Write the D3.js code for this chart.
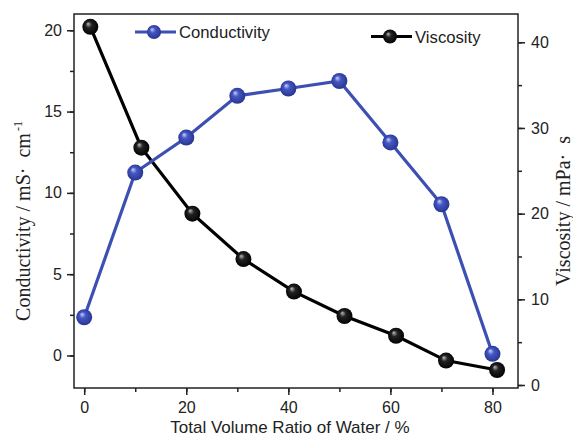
<!DOCTYPE html>
<html><head><meta charset="utf-8">
<script src="https://cdn.jsdelivr.net/npm/d3@7"></script>
<style>body{margin:0;background:#fff}svg{display:block}</style>
</head><body>
<script>
const condX = [0, 10, 20, 30, 40, 50, 60, 70, 80];
const condY = [2.35, 11.25, 13.4, 15.97, 16.42, 16.88, 13.1, 9.3, 0.1];
const viscX = [1.2, 11.2, 21.2, 31.2, 41.1, 51.0, 61.1, 70.9, 80.9];
const viscY = [41.8, 27.7, 20.0, 14.7, 10.9, 8.05, 5.75, 2.85, 1.75];
const xTicks = [0, 20, 40, 60, 80];
const leftTicks = [0, 5, 10, 15, 20];
const rightTicks = [0, 10, 20, 30, 40];
const seriesNames = ["Conductivity", "Viscosity"];

const W = 573, H = 436;
const m = {l: 74, t: 14, r: 518, b: 388};
const svg = d3.select("body").append("svg").attr("width", W).attr("height", H);
const defs = svg.append("defs");
function grad(id, light, mid, dark) {
  const g = defs.append("radialGradient").attr("id", id)
    .attr("cx", "50%").attr("cy", "50%").attr("r", "55%").attr("fx", "35%").attr("fy", "30%");
  g.append("stop").attr("offset", "0%").attr("stop-color", light);
  g.append("stop").attr("offset", "35%").attr("stop-color", mid);
  g.append("stop").attr("offset", "100%").attr("stop-color", dark);
}
grad("gBlue", "#c9d2ff", "#4557c4", "#25328a");
grad("gBlack", "#bdbdbd", "#222", "#000");

const x = d3.scaleLinear().domain([-2, 85]).range([m.l, m.r]);
const yL = d3.scaleLinear().domain([-2, 21]).range([m.b, m.t]);
const yR = d3.scaleLinear().domain([-0.35, 43.3]).range([m.b, m.t]);

const tickFont = "Liberation Sans, Arial, sans-serif";
const serif = "Liberation Serif, Times New Roman, serif";
const axColor = "#222";

// frame
svg.append("rect").attr("x", m.l).attr("y", m.t).attr("width", m.r - m.l).attr("height", m.b - m.t)
  .attr("fill", "none").attr("stroke", axColor).attr("stroke-width", 1.5);

function styleAxis(g) {
  g.select(".domain").remove();
  g.selectAll("line").attr("stroke", axColor).attr("stroke-width", 1.5);
  g.selectAll("text").attr("font-family", tickFont).attr("font-size", 16).attr("fill", "#222");
}
// minor ticks
const gx = svg.append("g").attr("transform", `translate(0,${m.b})`)
  .call(d3.axisBottom(x).tickValues(d3.range(0, 81, 10)).tickSize(4).tickFormat(""));
styleAxis(gx);
const gx2 = svg.append("g").attr("transform", `translate(0,${m.b})`)
  .call(d3.axisBottom(x).tickValues(xTicks).tickSize(7).tickPadding(7).tickFormat(d3.format("d")));
styleAxis(gx2);

const gl = svg.append("g").attr("transform", `translate(${m.l},0)`)
  .call(d3.axisLeft(yL).tickValues(d3.range(0, 21, 2.5)).tickSize(4).tickFormat(""));
styleAxis(gl);
const gl2 = svg.append("g").attr("transform", `translate(${m.l},0)`)
  .call(d3.axisLeft(yL).tickValues(leftTicks).tickSize(7).tickPadding(5).tickFormat(d3.format("d")));
styleAxis(gl2);

const gr = svg.append("g").attr("transform", `translate(${m.r},0)`)
  .call(d3.axisRight(yR).tickValues(d3.range(0, 41, 5)).tickSize(4).tickFormat(""));
styleAxis(gr);
const gr2 = svg.append("g").attr("transform", `translate(${m.r},0)`)
  .call(d3.axisRight(yR).tickValues(rightTicks).tickSize(7).tickPadding(6).tickFormat(d3.format("d")));
styleAxis(gr2);

// axis titles
svg.append("text").attr("x", 290).attr("y", 433).attr("text-anchor", "middle")
  .attr("font-family", tickFont).attr("font-size", 17).attr("fill", "#222")
  .text("Total Volume Ratio of Water / %");
const lt = svg.append("text").attr("transform", "translate(30,221) rotate(-90)").attr("text-anchor", "middle")
  .attr("font-family", serif).attr("font-size", 20).attr("fill", "#222").attr("xml:space", "preserve");
lt.append("tspan").text("Conductivity / mS\u00B7  cm");
lt.append("tspan").attr("dy", -8).attr("dx", 2).attr("font-size", 12).text("-1");
svg.append("text").attr("transform", "translate(570,211) rotate(-90)").attr("text-anchor", "middle")
  .attr("font-family", serif).attr("font-size", 20).attr("fill", "#222").attr("xml:space", "preserve")
  .text("Viscosity / mPa\u00B7  s");

const blue = "#3d4fb3";
const condData = condX.map((d, i) => [d, condY[i]]);
const viscData = viscX.map((d, i) => [d, viscY[i]]);

svg.append("path").datum(viscData).attr("fill", "none").attr("stroke", "#000").attr("stroke-width", 3.2)
  .attr("d", d3.line().x(d => x(d[0])).y(d => yR(d[1])));
svg.append("path").datum(condData).attr("fill", "none").attr("stroke", blue).attr("stroke-width", 3.2)
  .attr("d", d3.line().x(d => x(d[0])).y(d => yL(d[1])));

svg.selectAll(".vm").data(viscData).enter().append("circle")
  .attr("cx", d => x(d[0])).attr("cy", d => yR(d[1])).attr("r", 8).attr("fill", "url(#gBlack)");
svg.selectAll(".cm").data(condData).enter().append("circle")
  .attr("cx", d => x(d[0])).attr("cy", d => yL(d[1])).attr("r", 8).attr("fill", "url(#gBlue)");

// legend
function legend(x0, y0, color, gid, name) {
  svg.append("line").attr("x1", x0).attr("x2", x0 + 41).attr("y1", y0).attr("y2", y0)
    .attr("stroke", color).attr("stroke-width", 3.2);
  svg.append("circle").attr("cx", x0 + 19).attr("cy", y0).attr("r", 7).attr("fill", `url(#${gid})`);
  svg.append("text").attr("x", x0 + 44).attr("y", y0 + 6).attr("font-family", tickFont)
    .attr("font-size", 16.7).attr("fill", "#222").text(name);
}
legend(135, 32, blue, "gBlue", seriesNames[0]);
legend(371, 36.5, "#000", "gBlack", seriesNames[1]);
</script>
</body></html>
